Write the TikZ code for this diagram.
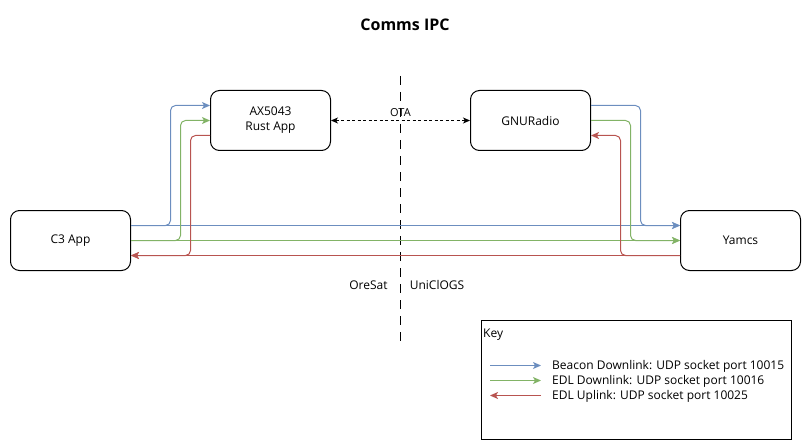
\documentclass[tikz,border=0pt]{standalone}
\usepackage{fontspec}
\setmainfont{Open Sans}
\usetikzlibrary{arrows.meta}
\definecolor{cblue}{HTML}{6C8EBF}
\definecolor{cgreen}{HTML}{82B366}
\definecolor{cred}{HTML}{B85450}
\tikzset{
  box/.style={draw=black, line width=1pt, rounded corners=9pt, minimum width=120pt, minimum height=60pt, align=center, inner sep=0pt, font=\fontsize{12}{15}\selectfont},
  tip/.style={-{Stealth[length=8pt,width=7pt,inset=2pt]}},
  wire/.style={line width=1pt, rounded corners=5pt, tip},
  bl/.style={wire, draw=cblue, cblue},
  gr/.style={wire, draw=cgreen, cgreen},
  rd/.style={wire, draw=cred, cred},
  lbl/.style={font=\fontsize{12}{15}\selectfont, inner sep=0pt},
}
\begin{document}
\begin{tikzpicture}[x=1pt, y=-1pt]
\useasboundingbox (0,0) rectangle (811,441);
\node[font=\fontsize{16}{19}\selectfont\bfseries] (title) at (405,25) {Comms IPC};
% divider
\coordinate (dtop) at (400.5,76);
\coordinate (dbot) at (400.5,341);
\draw[line width=1pt, dash pattern=on 9pt off 7pt] (dtop) -- (dbot);
% boxes
\node[box] (ax) at (270.5,120.5) {AX5043\\Rust App};
\node[box] (gnu) at (530.5,120.5) {GNURadio};
\node[box] (c3) at (70.5,240.5) {C3 App};
\node[box] (yam) at (740.5,240.5) {Yamcs};
% OTA
\draw[line width=1pt, dash pattern=on 3pt off 2.5pt, {Stealth[length=7pt,width=6pt,inset=2pt]}-{Stealth[length=7pt,width=6pt,inset=2pt]}] (ax.east) -- (gnu.west) node[midway, above=3pt, font=\fontsize{11}{13}\selectfont, inner sep=0pt] (ota) {OTA};
% blue
\draw[bl] (c3.east |- 0,225.5) -- (yam.west |- 0,225.5);
\draw[bl] (c3.east |- 0,225.5) -- (170.5,225.5) -- (170.5,105.5) -- (ax.west |- 0,105.5);
\draw[bl] (gnu.east |- 0,105.5) -- (640.5,105.5) -- (640.5,225.5) -- (yam.west |- 0,225.5);
% green
\draw[gr] (c3.east |- 0,240.5) -- (yam.west |- 0,240.5);
\draw[gr] (c3.east |- 0,240.5) -- (180.5,240.5) -- (180.5,120.5) -- (ax.west |- 0,120.5);
\draw[gr] (gnu.east |- 0,120.5) -- (630.5,120.5) -- (630.5,240.5) -- (yam.west |- 0,240.5);
% red
\draw[rd] (yam.west |- 0,255.5) -- (c3.east |- 0,255.5);
\draw[rd] (ax.west |- 0,135.5) -- (190.5,135.5) -- (190.5,255.5) -- (c3.east |- 0,255.5);
\draw[rd] (yam.west |- 0,255.5) -- (620.5,255.5) -- (620.5,135.5) -- (gnu.east |- 0,135.5);
% side labels
\node[lbl] (oresat) at (368.5,285) {OreSat};
\node[lbl] (uni) at (437,285) {UniClOGS};
% key
\node[draw=black, line width=1pt, minimum width=310pt, minimum height=119pt, inner sep=0pt] (key) at (636,379.5) {};
\node[lbl, anchor=west] (keyt) at (483,335) {Key};
\coordinate (k1a) at (490,365.5); \coordinate (k1b) at (541,365.5);
\coordinate (k2a) at (490,380.5); \coordinate (k2b) at (541,380.5);
\coordinate (k3a) at (490,395.5); \coordinate (k3b) at (541,395.5);
\draw[bl] (k1a) -- (k1b);
\draw[gr] (k2a) -- (k2b);
\draw[rd] (k3b) -- (k3a);
\node[lbl, anchor=west] (kt1) at (552,366) {Beacon Downlink: UDP socket port 10015};
\node[lbl, anchor=west] (kt2) at (552,381) {EDL Downlink: UDP socket port 10016};
\node[lbl, anchor=west] (kt3) at (552,396) {EDL Uplink: UDP socket port 10025};
\end{tikzpicture}
\end{document}
